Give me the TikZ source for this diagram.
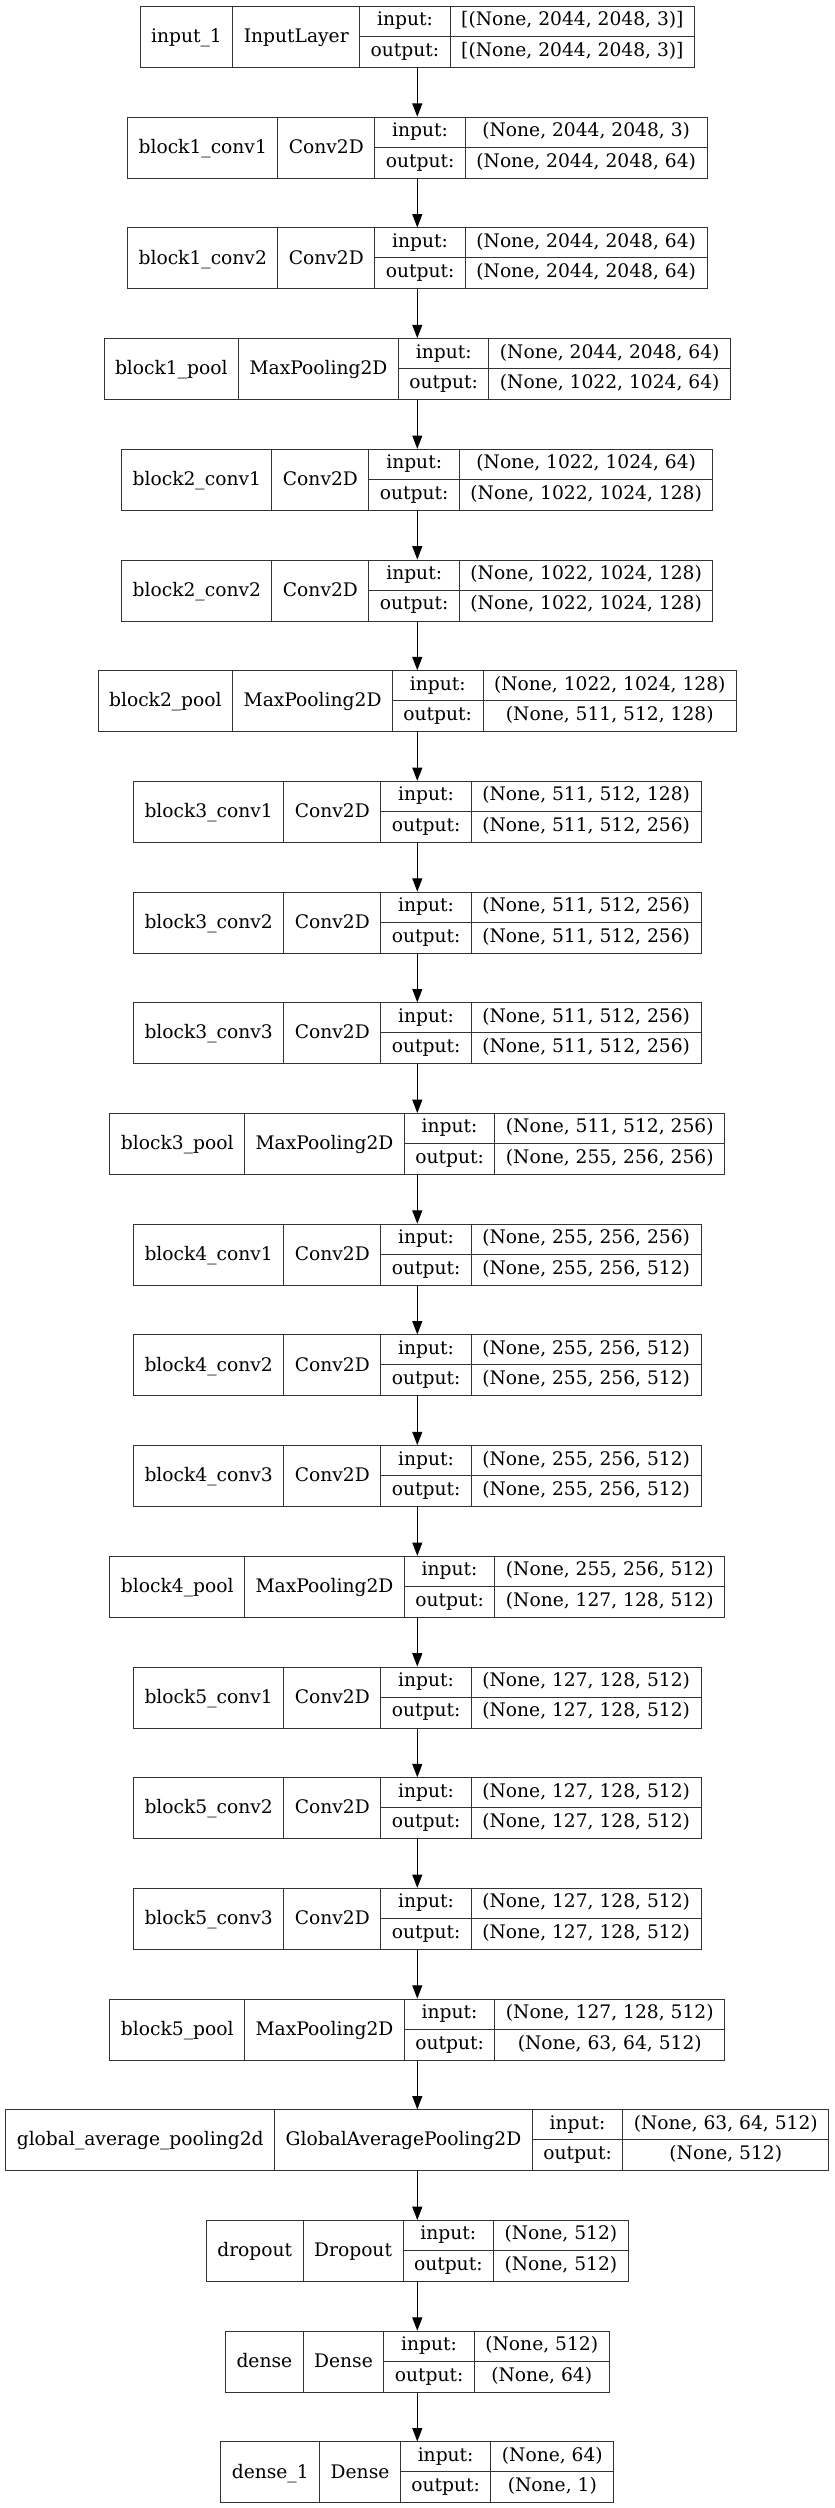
\documentclass[tikz,border=0pt]{standalone}
\usepackage{fontspec}
\setmainfont{DejaVu Serif}
\usetikzlibrary{arrows.meta}
\newlength\wA \newlength\wB \newlength\wC \newlength\wD \newlength\wT
\newsavebox\measbox
\newcommand\cellfont{\fontsize{18.67}{22}\selectfont}
\newcommand\measure[2]{\sbox\measbox{\cellfont #2}\global#1=\wd\measbox}
\tikzset{
  tbl/.style={draw=black!80, line width=1pt},
  cell/.style={font=\cellfont, inner sep=0pt, anchor=center, text height=13.6pt, text depth=4.3pt},
  arr/.style={draw=black, line width=1pt, -{Triangle[length=13.3pt,width=10pt]}},
}
\newcommand\layer[6]{%
  \pgfinterruptpicture
    \measure\wA{#3}\measure\wB{#4}\measure\wC{output:}%
    \measure\wD{#5}\measure\wT{#6}%
  \endpgfinterruptpicture
  \ifdim\wT>\wD \wD=\wT\fi
  \addtolength\wA{22pt}\addtolength\wB{22pt}\addtolength\wC{22pt}\addtolength\wD{22pt}%
  \pgfmathsetmacro\lW{\wA+\wB+\wC+\wD}%
  \pgfmathsetmacro\lxa{417.3-\lW/2}%
  \pgfmathsetmacro\lxb{\lxa+\wA}%
  \pgfmathsetmacro\lxc{\lxb+\wB}%
  \pgfmathsetmacro\lxd{\lxc+\wC}%
  \pgfmathsetmacro\lxe{\lxd+\wD}%
  \pgfmathsetmacro\lyt{-6-(#1-1)*110.7}%
  \pgfmathsetmacro\lyb{\lyt-61}%
  \pgfmathsetmacro\lym{\lyt-30.5}%
  \pgfmathsetmacro\lyc{\lyt-30.5-1.5}%
  \node[tbl, inner sep=0pt, minimum width=\lW pt, minimum height=61pt, anchor=north] (#2) at (417.3,\lyt) {};
  \draw[tbl] (\lxb,\lyt) -- (\lxb,\lyb) (\lxc,\lyt) -- (\lxc,\lyb) (\lxd,\lyt) -- (\lxd,\lyb) (\lxc,\lym) -- (\lxe,\lym);
  \node[cell] (#2-name) at ({(\lxa+\lxb)/2},\lyc) {#3};
  \node[cell] (#2-cls) at ({(\lxb+\lxc)/2},\lyc) {#4};
  \node[cell] (#2-il) at ({(\lxc+\lxd)/2},{(\lyt+\lym)/2}) {input:};
  \node[cell] (#2-ol) at ({(\lxc+\lxd)/2},{(\lym+\lyb)/2}) {output:};
  \node[cell] (#2-iv) at ({(\lxd+\lxe)/2},{(\lyt+\lym)/2}) {#5};
  \node[cell] (#2-ov) at ({(\lxd+\lxe)/2},{(\lym+\lyb)/2}) {#6};
}
\begin{document}
\begin{tikzpicture}[x=1pt,y=1pt]
\useasboundingbox[fill=white] (0,0) rectangle (835,-2508);
\layer{1}{L1}{input\_1}{InputLayer}{[(None, 2044, 2048, 3)]}{[(None, 2044, 2048, 3)]}
\layer{2}{L2}{block1\_conv1}{Conv2D}{(None, 2044, 2048, 3)}{(None, 2044, 2048, 64)}
\layer{3}{L3}{block1\_conv2}{Conv2D}{(None, 2044, 2048, 64)}{(None, 2044, 2048, 64)}
\layer{4}{L4}{block1\_pool}{MaxPooling2D}{(None, 2044, 2048, 64)}{(None, 1022, 1024, 64)}
\layer{5}{L5}{block2\_conv1}{Conv2D}{(None, 1022, 1024, 64)}{(None, 1022, 1024, 128)}
\layer{6}{L6}{block2\_conv2}{Conv2D}{(None, 1022, 1024, 128)}{(None, 1022, 1024, 128)}
\layer{7}{L7}{block2\_pool}{MaxPooling2D}{(None, 1022, 1024, 128)}{(None, 511, 512, 128)}
\layer{8}{L8}{block3\_conv1}{Conv2D}{(None, 511, 512, 128)}{(None, 511, 512, 256)}
\layer{9}{L9}{block3\_conv2}{Conv2D}{(None, 511, 512, 256)}{(None, 511, 512, 256)}
\layer{10}{L10}{block3\_conv3}{Conv2D}{(None, 511, 512, 256)}{(None, 511, 512, 256)}
\layer{11}{L11}{block3\_pool}{MaxPooling2D}{(None, 511, 512, 256)}{(None, 255, 256, 256)}
\layer{12}{L12}{block4\_conv1}{Conv2D}{(None, 255, 256, 256)}{(None, 255, 256, 512)}
\layer{13}{L13}{block4\_conv2}{Conv2D}{(None, 255, 256, 512)}{(None, 255, 256, 512)}
\layer{14}{L14}{block4\_conv3}{Conv2D}{(None, 255, 256, 512)}{(None, 255, 256, 512)}
\layer{15}{L15}{block4\_pool}{MaxPooling2D}{(None, 255, 256, 512)}{(None, 127, 128, 512)}
\layer{16}{L16}{block5\_conv1}{Conv2D}{(None, 127, 128, 512)}{(None, 127, 128, 512)}
\layer{17}{L17}{block5\_conv2}{Conv2D}{(None, 127, 128, 512)}{(None, 127, 128, 512)}
\layer{18}{L18}{block5\_conv3}{Conv2D}{(None, 127, 128, 512)}{(None, 127, 128, 512)}
\layer{19}{L19}{block5\_pool}{MaxPooling2D}{(None, 127, 128, 512)}{(None, 63, 64, 512)}
\layer{20}{L20}{global\_average\_pooling2d}{GlobalAveragePooling2D}{(None, 63, 64, 512)}{(None, 512)}
\layer{21}{L21}{dropout}{Dropout}{(None, 512)}{(None, 512)}
\layer{22}{L22}{dense}{Dense}{(None, 512)}{(None, 64)}
\layer{23}{L23}{dense\_1}{Dense}{(None, 64)}{(None, 1)}
\foreach \i [evaluate=\i as \j using int(\i+1)] in {1,...,22}
  \draw[arr] (L\i.south) -- (L\j.north);
\end{tikzpicture}
\end{document}
